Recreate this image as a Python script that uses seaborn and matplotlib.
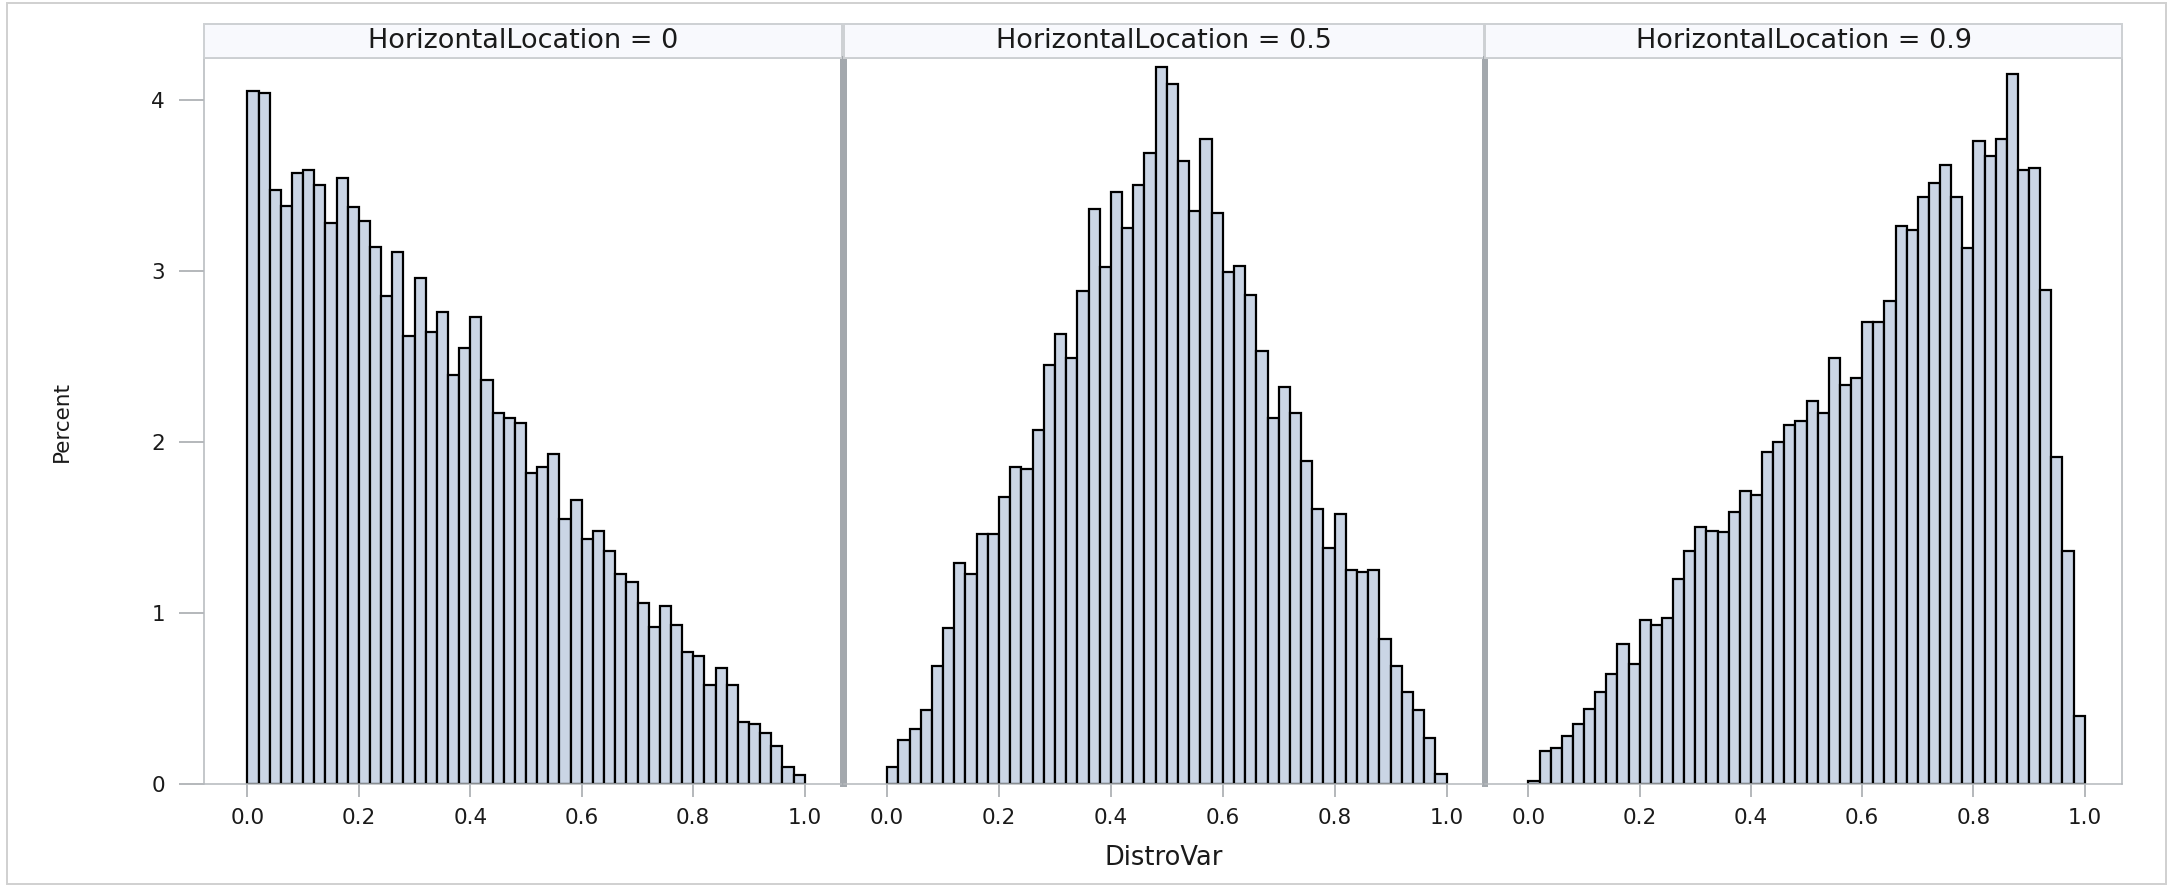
import numpy as np
import pandas as pd
import matplotlib
matplotlib.use("Agg")
import matplotlib.pyplot as plt
from matplotlib.patches import Rectangle
import seaborn as sns

# ---- data -------------------------------------------------------------
locations = ["0", "0.5", "0.9"]
bin_edges = [round(0.02 * k, 2) for k in range(51)]   # 50 bins of width 0.02

pct_loc_0 = [4.05, 4.04, 3.47, 3.38, 3.57, 3.59, 3.50, 3.28, 3.54, 3.37,
             3.29, 3.14, 2.85, 3.11, 2.62, 2.96, 2.64, 2.76, 2.39, 2.55,
             2.73, 2.36, 2.17, 2.14, 2.11, 1.82, 1.85, 1.93, 1.55, 1.66,
             1.43, 1.48, 1.36, 1.23, 1.18, 1.06, 0.92, 1.04, 0.93, 0.77,
             0.75, 0.58, 0.68, 0.58, 0.36, 0.35, 0.30, 0.22, 0.10, 0.05]

pct_loc_05 = [0.10, 0.26, 0.32, 0.43, 0.69, 0.91, 1.29, 1.23, 1.46, 1.46,
              1.68, 1.85, 1.84, 2.07, 2.45, 2.63, 2.49, 2.88, 3.36, 3.02,
              3.46, 3.25, 3.50, 3.69, 4.19, 4.09, 3.64, 3.35, 3.77, 3.34,
              2.99, 3.03, 2.86, 2.53, 2.14, 2.32, 2.17, 1.89, 1.61, 1.38,
              1.58, 1.25, 1.24, 1.25, 0.85, 0.69, 0.54, 0.43, 0.27, 0.06]

pct_loc_09 = [0.02, 0.19, 0.21, 0.28, 0.35, 0.44, 0.54, 0.64, 0.82, 0.70,
              0.96, 0.93, 0.97, 1.20, 1.36, 1.50, 1.48, 1.47, 1.59, 1.71,
              1.69, 1.94, 2.00, 2.10, 2.12, 2.24, 2.17, 2.49, 2.33, 2.37,
              2.70, 2.70, 2.82, 3.26, 3.24, 3.43, 3.51, 3.62, 3.43, 3.13,
              3.76, 3.67, 3.77, 4.15, 3.59, 3.60, 2.89, 1.91, 1.36, 0.40]

x_ticks = [0.0, 0.2, 0.4, 0.6, 0.8, 1.0]
x_tick_labels = ["0.0", "0.2", "0.4", "0.6", "0.8", "1.0"]
y_ticks = [0, 1, 2, 3, 4]
y_tick_labels = ["0", "1", "2", "3", "4"]

edges = np.array(bin_edges)
bin_centers = (edges[:-1] + edges[1:]) / 2
df = pd.DataFrame({
    "HorizontalLocation": np.repeat(locations, len(bin_centers)),
    "DistroVar": np.tile(bin_centers, len(locations)),
    "Percent": np.concatenate([pct_loc_0, pct_loc_05, pct_loc_09]),
})

# ---- style ------------------------------------------------------------
sns.set_theme(style="white")
plt.rcParams["font.family"] = ["DejaVu Sans"]

BAR_FILL = "#cad5e5"
TEXT = "#1a1a1a"
TICK = "#a0a4a8"
FRAME = "#b4b8bc"
DIVIDER = "#a3a8ad"

W, H = 2175, 888
fig = plt.figure(figsize=(W / 100, H / 100), dpi=100)
fig.patch.set_facecolor("white")


def fx(px):
    return px / W


def fy(py):
    return 1 - py / H


panel_bounds = [(204, 842), (843.5, 1484), (1485, 2122)]
top, bottom = 58, 784
strip_px = 34

axes = []
for left, right in panel_bounds:
    ax = fig.add_axes([fx(left), fy(bottom), (right - left) / W, (bottom - top) / H],
                      sharey=axes[0] if axes else None)
    axes.append(ax)

for i, (ax, loc) in enumerate(zip(axes, locations)):
    sub = df[df["HorizontalLocation"] == loc]
    sns.histplot(data=sub, x="DistroVar", weights="Percent", bins=bin_edges,
                 stat="count", ax=ax, color=BAR_FILL, edgecolor="black",
                 linewidth=1.6, alpha=1.0)
    ax.set_xlim(-0.078, 1.067)
    ax.set_ylim(0, 4.243)
    ax.set_xlabel("")
    ax.set_ylabel("")
    ax.set_facecolor("white")

    ax.set_xticks(x_ticks)
    ax.set_xticklabels(x_tick_labels)
    ax.tick_params(axis="x", direction="out", length=9.4, width=1.1, color=TICK,
                   pad=8, labelsize=15.5, labelcolor=TEXT, bottom=True)

    if i == 0:
        ax.set_yticks(y_ticks)
        ax.set_yticklabels(y_tick_labels)
        ax.tick_params(axis="y", direction="out", length=18, width=1.1, color=TICK,
                       pad=10, labelsize=15.5, labelcolor=TEXT, left=True)
    else:
        ax.tick_params(axis="y", left=False, labelleft=False)

    # frame: thin outer edges, thick dividers between panels
    for side in ("top", "bottom"):
        ax.spines[side].set_color(FRAME)
        ax.spines[side].set_linewidth(1.1)
    ax.spines["left"].set_color(FRAME if i == 0 else DIVIDER)
    ax.spines["left"].set_linewidth(1.1 if i == 0 else 3.6)
    ax.spines["right"].set_color(FRAME if i == len(axes) - 1 else DIVIDER)
    ax.spines["right"].set_linewidth(1.1 if i == len(axes) - 1 else 3.6)
    for sp in ax.spines.values():
        sp.set_visible(True)

    # column header strip
    sh = strip_px / (bottom - top)
    ax.add_patch(Rectangle((0, 1), 1, sh, transform=ax.transAxes, clip_on=False,
                           facecolor="#f8f9fd", edgecolor="#cdd0d3", linewidth=1.4,
                           zorder=5))
    ax.text(0.5, 1 + sh / 2, f"HorizontalLocation = {loc}", transform=ax.transAxes,
            ha="center", va="center", fontsize=19.5, color=TEXT, zorder=6)

fig.text(fx(62), fy(421), "Percent", rotation=90, ha="center", va="center",
         fontsize=15.5, color=TEXT)
fig.text(fx(1164), fy(858), "DistroVar", ha="center", va="center",
         fontsize=18.5, color=TEXT)

# light outer border around the graph
fig.add_artist(Rectangle((fx(7), fy(884)), (2166 - 7) / W, (884 - 3) / H,
                         transform=fig.transFigure, fill=False,
                         edgecolor="#d0d0d0", linewidth=1.4))

fig.savefig("out.png", dpi=100)
